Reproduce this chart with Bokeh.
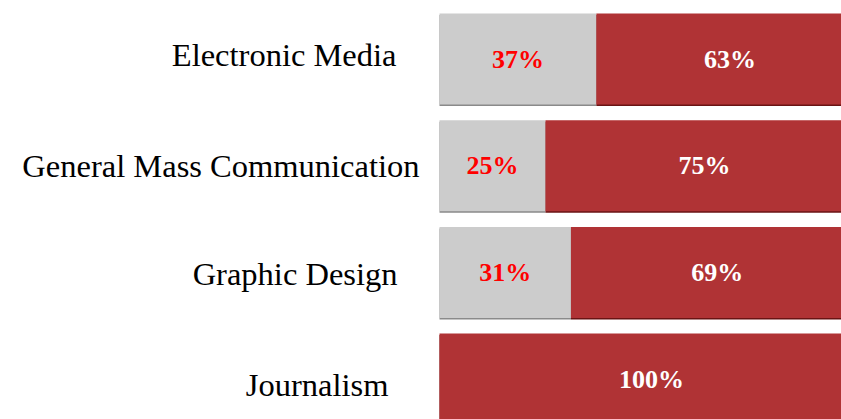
from bokeh.plotting import figure
from bokeh.models import Range1d, ColumnDataSource
from bokeh.core.properties import value
from bokeh.embed import file_html
from bokeh.resources import INLINE

# ---- data ----
categories = ["Electronic Media", "General Mass Communication", "Graphic Design", "Journalism"]
no_pct = [37, 25, 31, 0]
yes_pct = [63, 75, 69, 100]

# ---- style ----
GREY = "#cccccc"
RED = "#b03335"
GREY_SH = "#8a8a8a"
RED_SH = "#6a1414"
label_x_offsets = [-43, -20, -42, -51]   # right edge of each category label vs bar start, px
label_y_offsets = [-4, 0, 2, 6]          # vertical nudge of each category label, px

W, H = 841, 419
px_per_pct = 4.24
bar_left_px = 439
row_px = 106.7
first_center_px = 58.5

x0 = -bar_left_px / px_per_pct
x1 = (W - bar_left_px) / px_per_pct
y_top = -first_center_px / row_px
y_bot = (H - first_center_px) / row_px

p = figure(width=W, height=H, output_backend="svg", toolbar_location=None,
           x_range=Range1d(x0, x1), y_range=Range1d(y_bot, y_top),
           min_border=0, outline_line_color=None)
p.axis.visible = False
p.grid.visible = False

ys = list(range(len(categories)))
bar_h = 91 / row_px
sh = 1.5 / row_px

left_no = [0] * len(ys)
right_no = no_pct
left_yes = no_pct
right_yes = [a + b for a, b in zip(no_pct, yes_pct)]

# shadows
p.hbar(y=[y + sh for y in ys], left=left_no, right=right_no, height=bar_h,
       fill_color=GREY_SH, line_color=None)
p.hbar(y=[y + sh for y in ys], left=left_yes, right=right_yes, height=bar_h,
       fill_color=RED_SH, line_color=None)
# bars
p.hbar(y=ys, left=left_no, right=right_no, height=bar_h, fill_color=GREY, line_color=None)
p.hbar(y=ys, left=left_yes, right=right_yes, height=bar_h, fill_color=RED, line_color=None)

# percent labels
no_src = ColumnDataSource(dict(
    x=[v / 2 for v, n in zip(no_pct, no_pct) if n > 0],
    y=[y for y, n in zip(ys, no_pct) if n > 0],
    t=[f"{n}%" for n in no_pct if n > 0]))
p.text(x="x", y="y", text="t", source=no_src, text_color="#ff0000",
       text_font=value("Liberation Serif"), text_font_style="bold",
       text_font_size="26px", text_align="center", text_baseline="middle")

yes_src = ColumnDataSource(dict(
    x=[a + b / 2 for a, b in zip(no_pct, yes_pct)],
    y=ys,
    t=[f"{n}%" for n in yes_pct]))
p.text(x="x", y="y", text="t", source=yes_src, text_color="#ffffff",
       text_font=value("Liberation Serif"), text_font_style="bold",
       text_font_size="26px", text_align="center", text_baseline="middle")

# category labels
for cat, y, xo, yo in zip(categories, ys, label_x_offsets, label_y_offsets):
    p.text(x=[0], y=[y], text=[cat], x_offset=xo, y_offset=yo, text_color="#000000",
           text_font=value("Liberation Serif"), text_font_size="32.5px",
           text_align="right", text_baseline="middle")

open("out.html", "w").write(file_html(p, INLINE))
